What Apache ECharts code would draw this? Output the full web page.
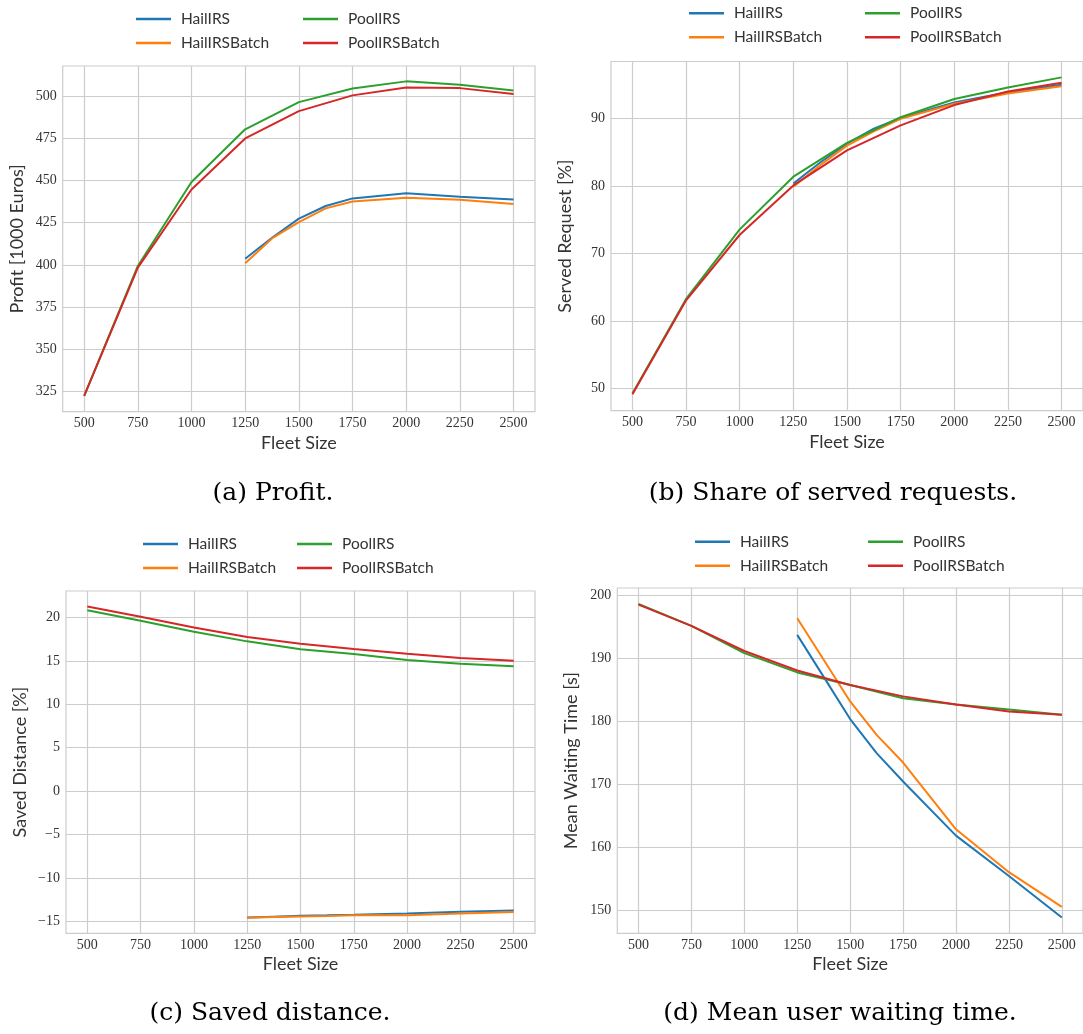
<!DOCTYPE html>
<html>
<head>
<meta charset="utf-8">
<script src="https://cdn.jsdelivr.net/npm/echarts@6/dist/echarts.min.js"></script>
<style>
html,body{margin:0;padding:0;background:#fff;}
#c{width:1083px;height:1034px;}
</style>
</head>
<body>
<div id="c"></div>
<script>
// ---------- data ----------
const seriesNames = ['HailIRS', 'HailIRSBatch', 'PoolIRS', 'PoolIRSBatch'];
const fleetPool = [500, 750, 1000, 1250, 1500, 1750, 2000, 2250, 2500];
const fleetHail = [1250, 1375, 1500, 1625, 1750, 2000, 2250, 2500];
const xTicks = [500, 750, 1000, 1250, 1500, 1750, 2000, 2250, 2500];

// (a) Profit [1000 Euros]
const profitHail      = [403.7, 416.1, 427.4, 434.9, 439.4, 442.4, 440.4, 438.8];
const profitHailBatch = [401.0, 415.7, 425.4, 433.5, 437.6, 439.8, 438.6, 436.1];
const profitPool      = [322.5, 399.4, 449.1, 480.3, 496.4, 504.5, 508.7, 506.7, 503.3];
const profitPoolBatch = [322.5, 398.4, 444.7, 474.9, 491.1, 500.4, 505.1, 504.7, 501.2];
const profitTicks = [325, 350, 375, 400, 425, 450, 475, 500];

// (b) Served Request [%]
const servedHail      = [80.4, 83.5, 86.3, 88.5, 90.1, 92.4, 93.9, 95.0];
const servedHailBatch = [79.9, 83.1, 86.0, 88.1, 89.95, 92.2, 93.7, 94.8];
const servedPool      = [49.3, 63.3, 73.6, 81.4, 86.4, 90.2, 92.9, 94.6, 96.1];
const servedPoolBatch = [49.2, 63.1, 72.8, 80.1, 85.3, 89.0, 92.0, 94.0, 95.3];
const servedTicks = [50, 60, 70, 80, 90];

// (c) Saved Distance [%]
const savedHail      = [-14.55, -14.45, -14.35, -14.3, -14.24, -14.09, -13.9, -13.75];
const savedHailBatch = [-14.58, -14.5, -14.43, -14.37, -14.3, -14.28, -14.09, -13.93];
const savedPool      = [20.84, 19.62, 18.36, 17.25, 16.33, 15.79, 15.10, 14.68, 14.38];
const savedPoolBatch = [21.26, 20.08, 18.85, 17.74, 16.98, 16.37, 15.83, 15.33, 15.03];
const savedTicks = [-15, -10, -5, 0, 5, 10, 15, 20];

// (d) Mean Waiting Time [s]
const waitHail      = [193.66, 187.0, 180.3, 174.9, 170.4, 161.8, 155.4, 148.8];
const waitHailBatch = [196.3, 189.7, 183.1, 177.8, 173.4, 162.8, 156.0, 150.5];
const waitPool      = [198.57, 195.1, 190.76, 187.7, 185.7, 183.6, 182.6, 181.8, 181.0];
const waitPoolBatch = [198.47, 195.1, 191.1, 188.0, 185.7, 183.9, 182.6, 181.5, 181.0];
const waitTicks = [150, 160, 170, 180, 190, 200];

const colors = ['#1f77b4', '#ff7f0e', '#2ca02c', '#d62728'];

// ---------- layout ----------
const panels = [
  { grid: {left: 62.7, top: 66, width: 472.3, height: 345.7}, yMin: 313.1, yMax: 517.8, ticks: profitTicks,
    name: 'Profit [1000 Euros]', data: [profitHail, profitHailBatch, profitPool, profitPoolBatch],
    caption: '(a) Profit.', capX: 273, capY: 493,
    leg: {x1: 136, x2: 303, y: 19} },
  { grid: {left: 611, top: 61.5, width: 479, height: 349.2}, yMin: 46.75, yMax: 98.45, ticks: servedTicks,
    name: 'Served Request [%]', data: [servedHail, servedHailBatch, servedPool, servedPoolBatch],
    caption: '(b) Share of served requests.', capX: 833, capY: 493,
    leg: {x1: 689, x2: 865, y: 13.3} },
  { grid: {left: 66, top: 591, width: 469, height: 342.3}, yMin: -16.37, yMax: 23.05, ticks: savedTicks,
    name: 'Saved Distance [%]', data: [savedHail, savedHailBatch, savedPool, savedPoolBatch],
    caption: '(c) Saved distance.', capX: 270, capY: 1013,
    leg: {x1: 143, x2: 297, y: 544} },
  { grid: {left: 617.3, top: 588, width: 473, height: 345.3}, yMin: 146.3, yMax: 201.1, ticks: waitTicks,
    name: 'Mean Waiting Time [s]', data: [waitHail, waitHailBatch, waitPool, waitPoolBatch],
    caption: '(d) Mean user waiting time.', capX: 840, capY: 1013,
    leg: {x1: 695, x2: 868, y: 541.7} }
];

const sansFont = 'Lato';
const serifFont = 'Liberation Serif';
const gridColor = '#cccccc';

const grids = [], xAxes = [], yAxes = [], series = [], legends = [], graphics = [];

panels.forEach((p, i) => {
  grids.push(Object.assign({show: true, borderColor: gridColor, borderWidth: 1.2, backgroundColor: '#fff'}, p.grid));
  xAxes.push({
    type: 'value', gridIndex: i, min: 400, max: 2600,
    name: 'Fleet Size', nameLocation: 'middle', nameGap: 22,
    nameTextStyle: {fontFamily: sansFont, fontSize: 18, color: '#333'},
    axisLine: {show: false}, axisTick: {show: false, customValues: xTicks},
    axisLabel: {customValues: xTicks, fontFamily: serifFont, fontSize: 14, color: '#333', margin: 5,
      formatter: v => String(v)},
    splitLine: {show: true, lineStyle: {color: gridColor, width: 1.2}}
  });
  yAxes.push({
    type: 'value', gridIndex: i, min: p.yMin, max: p.yMax,
    name: p.name, nameLocation: 'middle', nameGap: 37, nameRotate: 90,
    nameTextStyle: {fontFamily: sansFont, fontSize: 18, color: '#333'},
    axisLine: {show: false}, axisTick: {show: false, customValues: p.ticks},
    axisLabel: {customValues: p.ticks, fontFamily: serifFont, fontSize: 14, color: '#333', margin: 6,
      formatter: v => String(v).replace('-', '\u2212')},
    splitLine: {show: true, lineStyle: {color: gridColor, width: 1.2}}
  });
  seriesNames.forEach((nm, k) => {
    const xs = k < 2 ? fleetHail : fleetPool;
    series.push({
      type: 'line', name: nm, xAxisIndex: i, yAxisIndex: i,
      data: xs.map((x, j) => [x, p.data[k][j]]),
      showSymbol: false, symbol: 'none', smooth: false,
      lineStyle: {color: colors[k], width: 2}, itemStyle: {color: colors[k]},
      z: 2 + k
    });
  });
  const legBase = {
    orient: 'vertical', icon: 'rect', itemWidth: 35, itemHeight: 2.5, itemGap: 7,
    textStyle: {fontFamily: sansFont, fontSize: 15.5, color: '#333', lineHeight: 17, padding: [0, 0, 0, 5]},
    padding: 0, selectedMode: false
  };
  legends.push(Object.assign({}, legBase, {left: p.leg.x1, top: p.leg.y - 8.5, data: ['HailIRS', 'HailIRSBatch']}));
  legends.push(Object.assign({}, legBase, {left: p.leg.x2, top: p.leg.y - 8.5, data: ['PoolIRS', 'PoolIRSBatch']}));
  graphics.push({
    type: 'text', x: p.capX, y: p.capY,
    style: {text: p.caption, font: '25px "DejaVu Serif"', fill: '#000', textAlign: 'center', textVerticalAlign: 'middle'}
  });
});

const chart = echarts.init(document.getElementById('c'), null, {renderer: 'canvas'});
chart.setOption({
  animation: false,
  backgroundColor: '#fff',
  color: colors,
  grid: grids, xAxis: xAxes, yAxis: yAxes, series: series, legend: legends,
  graphic: graphics
});
</script>
</body>
</html>
